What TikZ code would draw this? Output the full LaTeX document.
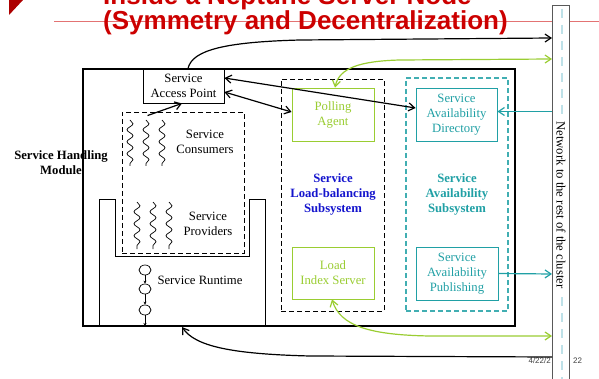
\documentclass[tikz,border=0pt]{standalone}
\usepackage{fontspec}
\setmainfont{Liberation Serif}
\newfontfamily\titlefont{Liberation Sans}
\usetikzlibrary{arrows.meta,decorations.pathmorphing,shapes.geometric}
\definecolor{slidered}{RGB}{204,0,0}
\definecolor{lbgreen}{RGB}{154,205,50}
\definecolor{avteal}{RGB}{32,160,165}
\definecolor{lbblue}{RGB}{20,20,205}
\definecolor{netdash}{RGB}{190,225,232}
\begin{document}
\begin{tikzpicture}[x=1pt,y=-1pt,
		>={Straight Barb[length=6pt,width=8pt]},
		txt/.style={font=\fontsize{12.7}{15}\selectfont,align=center,inner sep=0pt},
		heavy/.style={txt,font=\fontsize{12.7}{15}\selectfont\bfseries},
		box/.style={txt,draw,line width=0.8pt,fill=white,minimum width=82pt,minimum height=53pt},
		greenbox/.style={box,draw=lbgreen,text=lbgreen},
		tealbox/.style={box,draw=avteal,text=avteal},
		frame/.style={draw,dash pattern=on 5pt off 3pt,line width=0.9pt,inner sep=0pt},
		wiggle/.style={decorate,decoration={snake,amplitude=3pt,segment length=12pt},line width=0.7pt},
		ring/.style={ellipse,draw,line width=0.7pt,minimum width=12pt,minimum height=10pt,inner sep=0pt},
		conn/.style={line width=1.2pt},
		foot/.style={font=\titlefont\fontsize{8}{9}\selectfont,text=black!75,inner sep=0pt}]
	\useasboundingbox (0,0) rectangle (599,379);
	\clip (0,0) rectangle (599,379);
	% slide header
	\fill[slidered!85!black] (9,0) -- (23,0) -- (9,15) -- cycle;
	\draw[slidered!55,line width=1pt] (54,22) -- (599,22);
	\node[anchor=base west,inner sep=0pt,text=slidered,font=\titlefont\fontsize{26}{30}\selectfont\bfseries] (title1) at (103,5) {Inside a Neptune Server Node};
	\node[anchor=base west,inner sep=0pt,text=slidered,font=\titlefont\fontsize{26}{30}\selectfont\bfseries] (title2) at (103,30) {(Symmetry and Decentralization)};
	\node[foot,anchor=base east] (date) at (551,363) {4/22/2};
	\node[foot,anchor=base west] (page) at (573,363) {22};
	% service handling module
	\node[draw,line width=1.6pt,minimum width=432pt,minimum height=257pt,inner sep=0pt] (module) at (299,197.5) {};
	\node[heavy] (shm) at (61,162.5) {Service Handling\\Module};
	\draw[line width=0.8pt] (99,326) -- (99,199) -- (115,199) -- (115,256) -- (249,256) -- (249,199) -- (265,199) -- (265,326);
	\node[frame,minimum width=122pt,minimum height=141pt] (users) at (183,182.5) {};
	\node[box,minimum width=81pt,minimum height=34pt] (sap) at (183.5,86) {Service\\Access Point};
	\foreach \x in {130,146,162}
		\draw[wiggle] (\x,120) -- (\x,166);
	\foreach \x in {137,153,169}
		\draw[wiggle] (\x,202) -- (\x,249);
	\node[txt] (consumers) at (205,142) {Service\\Consumers};
	\node[txt] (providers) at (208,223.5) {Service\\Providers};
	\node[txt] (runtime) at (200,280) {Service Runtime};
	\node[ring] (r1) at (145,270) {};
	\node[ring] (r2) at (145,289) {};
	\node[ring] (r3) at (145,310) {};
	\coordinate (rbase) at (145,326);
	\draw[-{Stealth[length=3pt,width=3pt]},line width=0.6pt] (r1) -- (r2);
	\draw[-{Stealth[length=3pt,width=3pt]},line width=0.6pt] (r2) -- (r3);
	\draw[-{Stealth[length=3pt,width=3pt]},line width=0.6pt] (r3) -- (rbase);
	% load-balancing subsystem
	\node[frame,minimum width=103pt,minimum height=232pt] (lbsys) at (332.5,195) {};
	\node[greenbox] (agent) at (333,114.5) {Polling\\Agent};
	\node[greenbox,minimum height=52pt] (index) at (333,273) {Load\\Index Server};
	\node[heavy,text=lbblue] (lblabel) at (333,194) {Service\\Load-balancing\\Subsystem};
	% availability subsystem
	\node[frame,draw=avteal!85,line width=1.2pt,minimum width=102pt,minimum height=233pt] (avsys) at (457,194.5) {};
	\node[tealbox,minimum width=81pt] (directory) at (456.5,114.5) {Service\\Availability\\Directory};
	\node[tealbox] (publishing) at (457,273.5) {Service\\Availability\\Publishing};
	\node[heavy,text=avteal] (avlabel) at (457,194) {Service\\Availability\\Subsystem};
	% network bar
	\node[draw=black!65,fill=white,line width=0.8pt,minimum width=17pt,minimum height=380pt,inner sep=0pt] (net) at (560.5,195) {};
	\draw[netdash,line width=2.5pt,dash pattern=on 9pt off 7pt] (562,9) -- (562,379);
	\node[txt,rotate=-90,fill=white,inner xsep=1pt] (nettext) at (561,205) {Network to the rest of the cluster};
	\coordinate (n1) at (552,38);
	\coordinate (n2) at (552,59);
	\coordinate (n3) at (552,111.5);
	\coordinate (n4) at (552,274);
	\coordinate (n5) at (552,336);
	\coordinate (n6) at (552,357);
	\coordinate (mbase) at (182,327);
	% connections
	\draw[->,conn] ([xshift=4.5pt]sap.north) .. controls (192,50) and (225,42) .. (300,40) -- (n1);
	\draw[<->,conn] ([yshift=8pt]sap.east) -- ([yshift=6.5pt]directory.west);
	\draw[<->,conn] ([yshift=-6pt]sap.east) -- ([yshift=2.5pt]agent.west);
	\draw[->,conn] ([shift={(26pt,-4pt)}]users.north west) -- ([xshift=-1.5pt]sap.south);
	\draw[<->,conn,lbgreen] ([xshift=2pt]agent.north) .. controls (339,68) and (360,61) .. (400,60) -- (n2);
	\draw[<->,conn,lbgreen] ([xshift=-1pt]index.south) .. controls (340,326) and (370,335) .. (430,336) -- (n5);
	\draw[->,conn,avteal] (n3) -- ([yshift=3pt]directory.east);
	\draw[->,conn,avteal] (publishing.east) -- (n4);
	\draw[->,conn] (n6) -- (310,356) .. controls (230,354) and (195,346) .. (mbase);
\end{tikzpicture}
\end{document}
